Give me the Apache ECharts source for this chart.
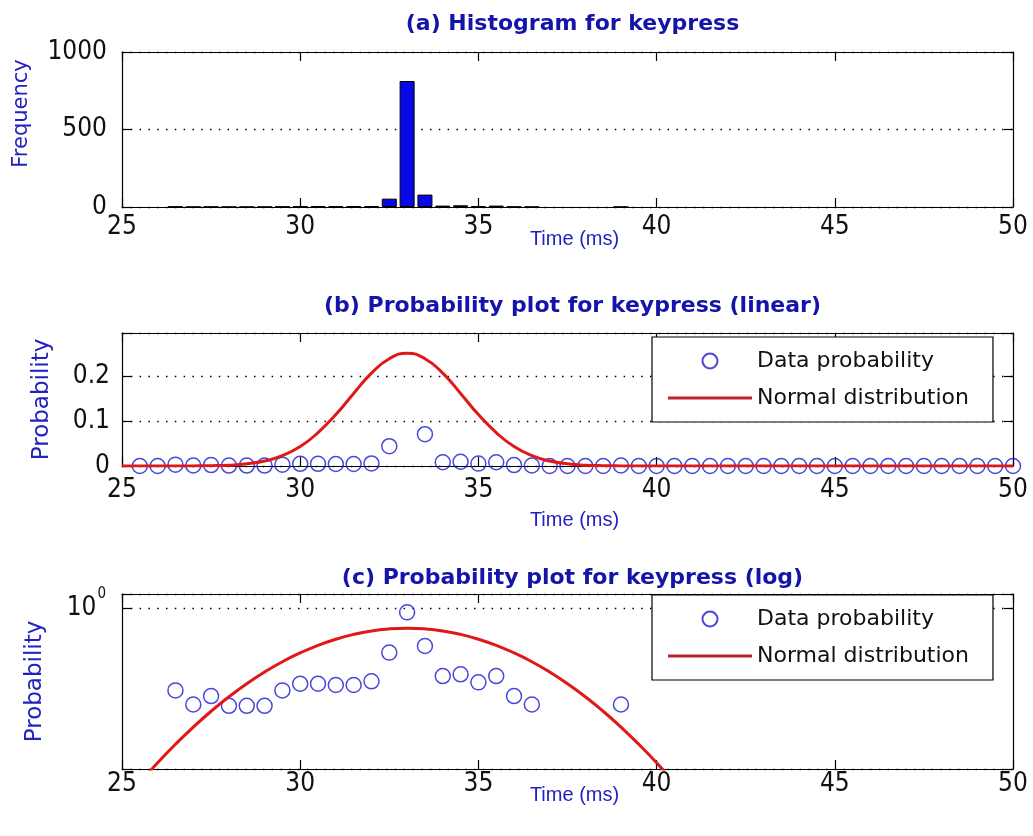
<!DOCTYPE html>
<html>
<head>
<meta charset="utf-8">
<script src="https://cdn.jsdelivr.net/npm/echarts@6/dist/echarts.min.js"></script>
<style>
  html, body { margin: 0; padding: 0; background: #ffffff; }
  #chart { width: 1033px; height: 836px; }
</style>
</head>
<body>
<div id="chart"></div>
<script>
// ---- Keypress timing data ----
// Histogram bins (ms) and their counts
const binCenters = [26.5, 27, 27.5, 28, 28.5, 29, 29.5, 30, 30.5, 31, 31.5, 32, 32.5, 33, 33.5, 34, 34.5, 35, 35.5, 36, 36.5, 39];
const binCounts  = [3, 1, 2, 1, 1, 1, 3, 5, 5, 5, 5, 6, 54, 813, 80, 9, 11, 6, 9, 2, 1, 1];

// Empirical probability per 0.5 ms step
const probTimes = [25.5, 26, 26.5, 27, 27.5, 28, 28.5, 29, 29.5, 30, 30.5, 31, 31.5, 32, 32.5, 33, 33.5, 34, 34.5, 35,
                   35.5, 36, 36.5, 37, 37.5, 38, 38.5, 39, 39.5, 40, 40.5, 41, 41.5, 42, 42.5, 43, 43.5, 44, 44.5, 45,
                   45.5, 46, 46.5, 47, 47.5, 48, 48.5, 49, 49.5, 50];
const probValues = [0, 0, 0.0030, 0.0011, 0.0020, 0.0010, 0.0010, 0.0010, 0.0030, 0.0048, 0.0048, 0.0044, 0.0044, 0.0057, 0.044, 0.77, 0.0706, 0.0083, 0.0094, 0.0053,
                    0.0083, 0.0020, 0.0011, 0, 0, 0, 0, 0.0011, 0, 0, 0, 0, 0, 0, 0, 0, 0, 0, 0, 0,
                    0, 0, 0, 0, 0, 0, 0, 0, 0, 0];

// Fitted normal distribution, sampled every 0.5 ms
const curveTimes = [25, 25.5, 26, 26.5, 27, 27.5, 28, 28.5, 29, 29.5, 30, 30.5, 31, 31.5, 32, 32.5, 33, 33.5, 34, 34.5,
                    35, 35.5, 36, 36.5, 37, 37.5, 38, 38.5, 39, 39.5, 40, 40.5, 41, 41.5, 42, 42.5, 43, 43.5, 44, 44.5,
                    45, 45.5, 46, 46.5, 47, 47.5, 48, 48.5, 49, 49.5, 50];
const curveValues = [9.3e-7, 4.2e-6, 1.75e-5, 6.5e-5, 2.2e-4, 6.8e-4, 0.0019, 0.0048, 0.011, 0.023, 0.043, 0.074, 0.114, 0.161, 0.206, 0.238, 0.250, 0.238, 0.206, 0.161,
                     0.114, 0.074, 0.043, 0.023, 0.011, 0.0048, 0.0019, 6.8e-4, 2.2e-4, 6.5e-5, 1.75e-5, 4.2e-6, 9.3e-7, 1.9e-7, 3.4e-8, 0, 0, 0, 0, 0,
                     0, 0, 0, 0, 0, 0, 0, 0, 0, 0, 0];

// Axis ranges and labels
const timeRange = [25, 50];
const timeStep = 5;
const freqRange = [0, 1000];
const freqStep = 500;
const linProbRange = [0, 0.295];
const linProbStep = 0.1;
const logProbRange = [1.12e-5, 2.84];

const titles = ['(a) Histogram for keypress', '(b) Probability plot for keypress (linear)', '(c) Probability plot for keypress (log)'];
const timeLabel = 'Time (ms)';
const freqLabel = 'Frequency';
const probLabel = 'Probability';
const seriesNames = ['Data probability', 'Normal distribution'];

// ---- Styling ----
const TICK_FONT = "'Liberation Sans Narrow', 'DejaVu Sans Condensed', 'Liberation Sans', sans-serif";
const NAME_FONT = "'DejaVu Sans', 'Liberation Sans', sans-serif";
const XNAME_FONT = "'Liberation Sans', Arial, sans-serif";
const TITLE_COLOR = '#1414a8';
const NAME_COLOR = '#2222c0';
const MARKER_COLOR = '#1a1ad0';
const CURVE_COLOR = '#e01818';
const dotted = { color: '#000', width: 1.4, type: [1.5, 7.3] };

const grids = [
  { left: 122, width: 891, top: 52, height: 155 },
  { left: 122, width: 891, top: 333, height: 133 },
  { left: 122, width: 891, top: 594, height: 175 }
];

function bottomTimeAxis(i, labelMargin, nameGap) {
  return {
    type: 'value', gridIndex: i, position: 'bottom',
    min: timeRange[0], max: timeRange[1], interval: timeStep,
    axisLine: { show: true, onZero: false, lineStyle: { color: '#000', width: 1.2 } },
    axisTick: { show: true, inside: true, length: 9, lineStyle: { color: '#000', width: 1.2 } },
    axisLabel: { margin: labelMargin, fontFamily: TICK_FONT, fontSize: 26, color: '#111' },
    splitLine: { show: false },
    name: timeLabel, nameLocation: 'middle', nameGap: nameGap, nameMoveOverlap: false,
    nameTextStyle: { fontFamily: XNAME_FONT, fontSize: 20, color: NAME_COLOR, padding: [0, 0, 0, 14] }
  };
}
function topTimeAxis(i) {
  return {
    type: 'value', gridIndex: i, position: 'top',
    min: timeRange[0], max: timeRange[1], interval: timeStep,
    axisLine: { show: true, onZero: false, lineStyle: { color: '#000', width: 1.2 } },
    axisTick: { show: true, inside: true, length: 9, lineStyle: { color: '#000', width: 1.2 } },
    axisLabel: { show: false }, splitLine: { show: false }
  };
}
function rightAxis(base) {
  return Object.assign({}, base, {
    position: 'right', name: '', axisLabel: { show: false }, splitLine: { show: false }
  });
}

const yA = {
  type: 'value', gridIndex: 0, position: 'left',
  min: freqRange[0], max: freqRange[1], interval: freqStep,
  axisLine: { show: true, onZero: false, lineStyle: { color: '#000', width: 1.2 } },
  axisTick: { show: true, inside: true, length: 9, lineStyle: { color: '#000', width: 1.2 } },
  axisLabel: { margin: 15, fontFamily: TICK_FONT, fontSize: 26, color: '#111', formatter: v => String(v) },
  splitLine: { show: true, lineStyle: dotted },
  name: freqLabel, nameLocation: 'middle', nameRotate: 90, nameGap: 90, nameMoveOverlap: false,
  nameTextStyle: { fontFamily: NAME_FONT, fontSize: 21, color: NAME_COLOR, padding: [0, 0, 0, 32] }
};
const yB = {
  type: 'value', gridIndex: 1, position: 'left',
  min: linProbRange[0], max: linProbRange[1], interval: linProbStep,
  axisLine: { show: true, onZero: false, lineStyle: { color: '#000', width: 1.2 } },
  axisTick: { show: true, inside: true, length: 9, lineStyle: { color: '#000', width: 1.2 } },
  axisLabel: {
    margin: 12, fontFamily: TICK_FONT, fontSize: 26, color: '#111',
    formatter: v => (Math.abs(v / linProbStep - Math.round(v / linProbStep)) < 1e-6 ? String(+v.toFixed(1)) : '')
  },
  splitLine: { show: true, lineStyle: dotted },
  name: probLabel, nameLocation: 'middle', nameRotate: 90, nameGap: 68, nameMoveOverlap: false,
  nameTextStyle: { fontFamily: NAME_FONT, fontSize: 23, color: NAME_COLOR }
};
const yC = {
  type: 'log', logBase: 10, gridIndex: 2, position: 'left',
  min: logProbRange[0], max: logProbRange[1], splitNumber: 1,
  axisLine: { show: true, onZero: false, lineStyle: { color: '#000', width: 1.2 } },
  axisTick: { show: true, inside: true, length: 9, lineStyle: { color: '#000', width: 1.2 } },
  axisLabel: {
    margin: 16, color: '#111',
    formatter: v => (Math.abs(v - 1) < 1e-9 ? '{b|10}{s|0}' : ''),
    rich: {
      b: { fontFamily: TICK_FONT, fontSize: 26, color: '#111', verticalAlign: 'middle' },
      s: { fontFamily: TICK_FONT, fontSize: 15, color: '#111', verticalAlign: 'middle', padding: [0, 0, 30, 1] }
    }
  },
  splitLine: { show: true, lineStyle: dotted },
  name: probLabel, nameLocation: 'middle', nameRotate: 90, nameGap: 75, nameMoveOverlap: false,
  nameTextStyle: { fontFamily: NAME_FONT, fontSize: 23, color: NAME_COLOR }
};

function legendAt(top) {
  return {
    orient: 'vertical', left: 652, top: top,
    padding: [13, 24, 13, 16], itemGap: 15,
    itemWidth: 84, itemHeight: 15,
    backgroundColor: '#fff', borderColor: '#000', borderWidth: 1.2, borderRadius: 0,
    selectedMode: false,
    textStyle: { fontFamily: NAME_FONT, fontSize: 22, color: '#111' },
    data: [
      { name: seriesNames[0], icon: 'circle' },
      { name: seriesNames[1], icon: 'path://M0,0L84,0L84,3L0,3Z', itemStyle: { color: '#c0222a' } }
    ]
  };
}

const histData = binCenters.map((x, i) => [x, binCounts[i]]);
const linPoints = probTimes.map((x, i) => [x, probValues[i]]);
const logPoints = linPoints.filter(p => p[1] > 0);
const linCurve = curveTimes.map((x, i) => [x, curveValues[i]]);
const logCurve = linCurve.filter(p => p[1] > 0);

const scatterStyle = {
  type: 'scatter', name: seriesNames[0], symbol: 'circle', symbolSize: 15,
  itemStyle: { color: 'rgba(0,0,0,0)', borderColor: MARKER_COLOR, borderWidth: 1.5 },
  clip: true, z: 3
};
const curveStyle = {
  type: 'line', name: seriesNames[1], symbol: 'none', showSymbol: false, smooth: true,
  lineStyle: { color: CURVE_COLOR, width: 3 }, itemStyle: { color: CURVE_COLOR },
  clip: true, z: 4
};

const option = {
  animation: false,
  backgroundColor: '#ffffff',
  title: titles.map((t, i) => ({
    text: t, left: 567.5, textAlign: 'center', top: [8, 290, 562][i],
    textStyle: { fontFamily: NAME_FONT, fontWeight: 'bold', fontSize: 22, color: TITLE_COLOR }
  })),
  grid: grids,
  legend: [legendAt(337), legendAt(595)],
  xAxis: [
    bottomTimeAxis(0, 7, 22), bottomTimeAxis(1, 11, 44), bottomTimeAxis(2, 2, 16),
    topTimeAxis(0), topTimeAxis(1), topTimeAxis(2)
  ],
  yAxis: [yA, yB, yC, rightAxis(yA), rightAxis(yB), rightAxis(yC)],
  series: [
    {
      type: 'bar', name: 'Frequency', xAxisIndex: 0, yAxisIndex: 0, data: histData,
      barWidth: 15, itemStyle: { color: '#0808e4', borderColor: '#000', borderWidth: 1 }
    },
    Object.assign({}, scatterStyle, { xAxisIndex: 1, yAxisIndex: 1, data: linPoints }),
    Object.assign({}, curveStyle, { xAxisIndex: 1, yAxisIndex: 1, data: linCurve }),
    Object.assign({}, scatterStyle, { xAxisIndex: 2, yAxisIndex: 2, data: logPoints }),
    Object.assign({}, curveStyle, { xAxisIndex: 2, yAxisIndex: 2, data: logCurve })
  ]
};

const chart = echarts.init(document.getElementById('chart'), null, { renderer: 'canvas' });
chart.setOption(option);
</script>
</body>
</html>
